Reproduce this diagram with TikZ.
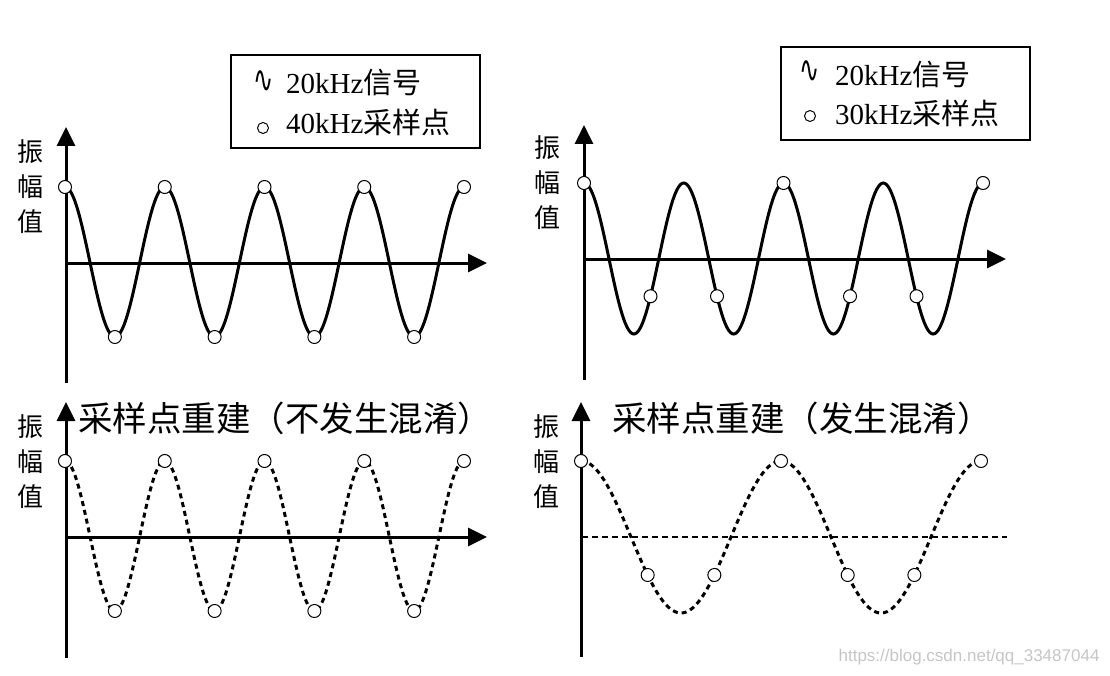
\documentclass[tikz,border=0pt]{standalone}
\usepackage{fontspec}
\usepackage{tikz}
\usetikzlibrary{arrows.meta}
\setmainfont{Liberation Serif}
\newfontfamily\cjk{Noto Sans CJK SC}
\newfontfamily\symb{DejaVu Sans}
\newfontfamily\wmfont{Liberation Sans}

\begin{document}
\begin{tikzpicture}[x=1pt,y=-1pt,
	axis/.style={line width=3pt,-{Triangle[length=19pt,width=18pt]}},
	wave/.style={line width=3pt,smooth,samples=241},
	recon/.style={wave,dash pattern=on 5pt off 4pt},
	sample/.style={circle,draw,fill=white,line width=1pt,inner sep=0pt,minimum size=13pt},
	legdot/.style={circle,draw,line width=1pt,inner sep=0pt,minimum size=11pt},
	legsin/.style={inner sep=0pt,xscale=1.1,yscale=1.7,font=\symb\fontsize{22}{22}\selectfont},
	legendbox/.style={draw,line width=2pt,minimum width=249pt,minimum height=93pt},
	legtext/.style={anchor=west,inner sep=0pt,font=\fontsize{29}{29}\selectfont},
	ylab/.style={align=center,font=\cjk\fontsize{26}{35}\selectfont},
	ttl/.style={anchor=west,inner sep=0pt,font=\cjk\fontsize{34.5}{34.5}\selectfont}]

	\useasboundingbox (0,0) rectangle (1110,676);

	% top left: 20kHz signal, 40kHz samples
	\coordinate (o1) at (66,263);
	\draw[axis] (66,383) -- (66,127);
	\draw[axis] (o1) -- (487,263);
	\node[ylab] (yl1) at (30,187) {振\\幅\\值};
	\draw[wave,domain=0:399] plot ({65+\x},{262-75*cos(3.609*\x)});
	\foreach \k in {0,...,8}
		\node[sample] (sa-\k) at ({65+49.875*\k},{262-75*cos(180*\k)}) {};

	\node[legendbox] (leg1) at (355.5,101.5) {};
	\node[legsin] (sin1) at (264,82) {∿};
	\node[legtext] (lt1) at (286,83) {20kHz{\cjk 信号}};
	\node[legdot] (dot1) at (263,128) {};
	\node[legtext] (lt2) at (286,122) {40kHz{\cjk 采样点}};

	% top right: 20kHz signal, 30kHz samples
	\coordinate (o2) at (584,259);
	\draw[axis] (584,380) -- (584,125);
	\draw[axis] (o2) -- (1006,259);
	\node[ylab] (yl2) at (547,183) {振\\幅\\值};
	\draw[wave,domain=0:399] plot ({584+\x},{258.5-75.5*cos(3.609*\x)});
	\foreach \k in {0,...,6}
		\node[sample] (sb-\k) at ({584+66.5*\k},{258.5-75.5*cos(240*\k)}) {};

	\node[legendbox] (leg2) at (905,94) {};
	\node[legsin] (sin2) at (810,72) {∿};
	\node[legtext] (lt3) at (835,75) {20kHz{\cjk 信号}};
	\node[legdot] (dot2) at (810,116) {};
	\node[legtext] (lt4) at (835,113) {30kHz{\cjk 采样点}};

	% bottom left: reconstruction without aliasing
	\coordinate (o3) at (66,537);
	\draw[axis] (66,658) -- (66,402);
	\draw[axis] (o3) -- (487,537);
	\node[ylab] (yl3) at (30,462) {振\\幅\\值};
	\node[ttl] (ttl1) at (78,418) {采样点重建（不发生混淆）};
	\draw[recon,domain=0:399] plot ({65+\x},{536-75*cos(3.609*\x)});
	\foreach \k in {0,...,8}
		\node[sample] (sc-\k) at ({65+49.875*\k},{536-75*cos(180*\k)}) {};

	% bottom right: reconstruction with aliasing
	\coordinate (o4) at (582,537);
	\draw[axis] (581,657) -- (581,402);
	\draw[line width=2.5pt,dash pattern=on 6pt off 4pt] (o4) -- (1007,537);
	\node[ylab] (yl4) at (546,462) {振\\幅\\值};
	\node[ttl] (ttl2) at (612,418) {采样点重建（发生混淆）};
	\draw[recon,domain=0:400] plot ({581+\x},{537-76*cos(1.8*\x)});
	\foreach \k in {0,...,6}
		\node[sample] (sd-\k) at ({581+66.67*\k},{537-76*cos(120*\k)}) {};

	\node[anchor=east,text=gray!45,font=\wmfont\fontsize{17}{17}\selectfont] (wm) at (1103,657) {https://blog.csdn.net/qq\_33487044};

\end{tikzpicture}
\end{document}
